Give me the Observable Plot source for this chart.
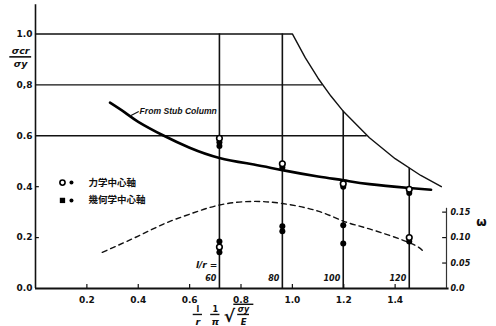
<!DOCTYPE html>
<html><head><meta charset="utf-8">
<script src="https://cdn.jsdelivr.net/npm/d3@7"></script>
<script src="https://cdn.jsdelivr.net/npm/@observablehq/plot@0.6"></script>
<style>body{margin:0;background:#fff}svg{display:block}</style>
</head><body><div id="chart"></div>
<script>
// Euler curve (σcr/σy vs λ̄)
const eulerX = [0, 1.0, 1.05, 1.1, 1.15, 1.2, 1.3, 1.4, 1.5, 1.58];
const eulerY = [1.0, 1.0, 0.907, 0.826, 0.756, 0.694, 0.592, 0.51, 0.444, 0.40];
// "From Stub Column" curve
const stubX = [0.29, 0.35, 0.4, 0.5, 0.6, 0.716, 0.85, 0.961, 1.1, 1.2, 1.3, 1.455, 1.54];
const stubY = [0.73, 0.69, 0.655, 0.6, 0.553, 0.513, 0.487, 0.465, 0.44, 0.425, 0.41, 0.395, 0.388];
// ω curve (right axis, ω units)
const omegaX = [0.26, 0.4, 0.5, 0.6, 0.716, 0.84, 0.961, 1.1, 1.2, 1.3, 1.455, 1.51];
const omegaV = [0.071, 0.103, 0.127, 0.146, 0.164, 0.171, 0.167, 0.152, 0.132, 0.117, 0.09, 0.073];
// slenderness lines l/r = 60, 80, 100, 120
const lrLabels = ["60", "80", "100", "120"];
const lrX = [0.716, 0.961, 1.198, 1.455];
const lrTop = [1.0, 1.0, 0.697, 0.472];
// horizontal grid lines
const gridY = [0.8, 0.6];
const gridEnd = [1.118, 1.291];
// test points
const ptX = [0.716,0.716,0.716,0.716,0.716,0.716, 0.961,0.961,0.961,0.961, 1.198,1.198,1.198,1.198, 1.455,1.455,1.455,1.455];
const ptY = [0.59,0.575,0.56,0.185,0.163,0.142, 0.49,0.475,0.245,0.225, 0.412,0.400,0.248,0.177, 0.39,0.375,0.20,0.185];
const ptType = ["o","f","f","f","o","f", "o","f","f","f", "o","f","f","f", "o","f","o","f"];
// axis ticks
const xTicks = [0.2, 0.4, 0.6, 0.8, 1.0, 1.2, 1.4];
const yTicks = [0.0, 0.2, 0.4, 0.6, 0.8, 1.0];
const yTickText = ["0.0", "0.2", "0.4", "0.6", "0,8", "1.0"];
const wTicks = [0.0, 0.05, 0.10, 0.15];
const wTickText = ["0.0", "0.05", "0.10", "0.15"];
const legendText = ["力学中心軸", "幾何学中心軸"];

const euler = eulerX.map((x,i)=>({x, y:eulerY[i]}));
const stub = stubX.map((x,i)=>({x, y:stubY[i]}));
const omega = omegaX.map((x,i)=>({x, y:omegaV[i]*2}));
const pts = ptX.map((x,i)=>({x, y:ptY[i], t:ptType[i]}));
const lr = lrX.map((x,i)=>({x, top:lrTop[i], label:lrLabels[i]}));
const grid = gridY.map((y,i)=>({y, x2:gridEnd[i]}));
const font = "DejaVu Sans";
const B = {fontWeight: "bold", fill: "#111"};
const numY = -0.084, barY = -0.102, denY = -0.132;

const chart = Plot.plot({
  width: 496, height: 326,
  marginLeft: 35, marginRight: 50, marginTop: 8, marginBottom: 38,
  x: {domain: [0, 1.6], axis: null},
  y: {domain: [0, 1.1], axis: null},
  style: {fontFamily: font, background: "#fff"},
  marks: [
    // axes lines
    Plot.ruleX([0], {y1: 0, y2: 1.115, stroke: "#111", strokeWidth: 1.6}),
    Plot.ruleY([0], {x1: 0, x2: 1.61, stroke: "#111", strokeWidth: 1.8}),
    Plot.ruleX([1.6], {y1: 0, y2: 0.315, stroke: "#333", strokeWidth: 1.2}),
    // grid lines
    Plot.ruleY(grid, {y: "y", x1: 0, x2: "x2", stroke: "#111", strokeWidth: 1.4}),
    Plot.ruleX(lr, {x: "x", y1: 0, y2: "top", stroke: "#111", strokeWidth: 1.6}),
    // ticks
    Plot.ruleX(xTicks, {x: d=>d, y1: 0, y2: 0.016, stroke: "#111", strokeWidth: 1.2}),
    Plot.ruleY([0.2, 0.4], {y: d=>d, x1: 0, x2: 0.015, stroke: "#111", strokeWidth: 1.2}),
    Plot.ruleY(wTicks.slice(1), {y: d=>d*2, x1: 1.585, x2: 1.6, stroke: "#111", strokeWidth: 1.2}),
    // curves
    Plot.line(euler, {x: "x", y: "y", stroke: "#111", strokeWidth: 1.4}),
    Plot.line(stub, {x: "x", y: "y", stroke: "#000", strokeWidth: 2.6, curve: "natural"}),
    Plot.line(omega, {x: "x", y: "y", stroke: "#111", strokeWidth: 1.4, strokeDasharray: "5,4", curve: "natural"}),
    // points
    Plot.dot(pts.filter(d=>d.t==="f"), {x: "x", y: "y", r: 3, fill: "#000"}),
    Plot.dot(pts.filter(d=>d.t==="o"), {x: "x", y: "y", r: 2.8, stroke: "#000", strokeWidth: 1.6, fill: "#fff"}),
    // tick labels
    Plot.text(xTicks, {x: d=>d, y: 0, dy: 12, text: d=>d.toFixed(1), fontSize: 9, ...B}),
    Plot.text(yTicks, {x: 0, y: d=>d, dx: -3, text: (d,i)=>yTickText[i], textAnchor: "end", fontSize: 9, ...B}),
    Plot.text(wTicks, {x: 1.6, y: d=>d*2, dx: 4, text: (d,i)=>wTickText[i], textAnchor: "start", fontSize: 8, fontStyle: "italic", ...B}),
    Plot.text(["ω"], {x: 1.6, y: 0.26, dx: 35, text: d=>d, fontSize: 12, ...B}),
    // l/r labels
    Plot.text(lr, {x: "x", y: 0.04, dx: -3, text: "label", textAnchor: "end", fontSize: 8, fontStyle: "italic", ...B}),
    Plot.text(["l/r ="], {x: lrX[0], y: 0.092, dx: -2, text: d=>d, textAnchor: "end", fontSize: 9, fontStyle: "italic", ...B}),
    // y title fraction
    Plot.text(["σcr"], {x: -0.058, y: 0.932, text: d=>d, fontSize: 9.5, fontStyle: "italic", ...B}),
    Plot.ruleY([0.91], {x1: -0.1, x2: -0.015, stroke: "#111", strokeWidth: 1.6}),
    Plot.text(["σy"], {x: -0.058, y: 0.882, text: d=>d, fontSize: 9.5, fontStyle: "italic", ...B}),
    // x title
    Plot.text(["l"], {x: 0.632, y: numY, text: d=>d, fontSize: 8, ...B}),
    Plot.ruleY([barY], {x1: 0.614, x2: 0.65, stroke: "#111", strokeWidth: 1.4}),
    Plot.text(["r"], {x: 0.632, y: denY, text: d=>d, fontSize: 9.5, fontStyle: "italic", ...B}),
    Plot.text(["1"], {x: 0.70, y: numY, text: d=>d, fontSize: 8, ...B}),
    Plot.ruleY([barY], {x1: 0.682, x2: 0.718, stroke: "#111", strokeWidth: 1.4}),
    Plot.text(["π"], {x: 0.70, y: denY, text: d=>d, fontSize: 9.5, fontStyle: "italic", ...B}),
    Plot.text(["√"], {x: 0.755, y: -0.112, text: d=>d, fontSize: 17, ...B}),
    Plot.ruleY([-0.062], {x1: 0.772, x2: 0.85, stroke: "#111", strokeWidth: 1.4}),
    Plot.text(["σy"], {x: 0.81, y: numY, text: d=>d, fontSize: 8, fontStyle: "italic", ...B}),
    Plot.ruleY([barY], {x1: 0.787, x2: 0.833, stroke: "#111", strokeWidth: 1.4}),
    Plot.text(["E"], {x: 0.81, y: denY, text: d=>d, fontSize: 8.5, fontStyle: "italic", ...B}),
    // From Stub Column label
    Plot.link([0], {x1: 0.368, x2: 0.402, y1: 0.678, y2: 0.695, stroke: "#111", strokeWidth: 1.1}),
    Plot.text(["From Stub Column"], {x: 0.405, y: 0.695, text: d=>d, textAnchor: "start", fontFamily: "Liberation Sans", fontSize: 8.6, fontStyle: "italic", ...B}),
    // legend
    Plot.dot([0], {x: 0.105, y: 0.416, r: 2.6, stroke: "#000", strokeWidth: 1.6, fill: "#fff"}),
    Plot.dot([0], {x: 0.14, y: 0.416, r: 2, fill: "#000"}),
    Plot.dot([0], {x: 0.105, y: 0.346, r: 3, symbol: "square", fill: "#000"}),
    Plot.dot([0], {x: 0.14, y: 0.346, r: 2, fill: "#000"}),
    Plot.text(legendText, {x: 0.206, y: (d,i)=> i===0 ? 0.416 : 0.346, text: d=>d, textAnchor: "start", fontFamily: "Noto Sans CJK JP", fontSize: 9.5, ...B})
  ]
});
document.getElementById("chart").appendChild(chart);
</script>
</body></html>
